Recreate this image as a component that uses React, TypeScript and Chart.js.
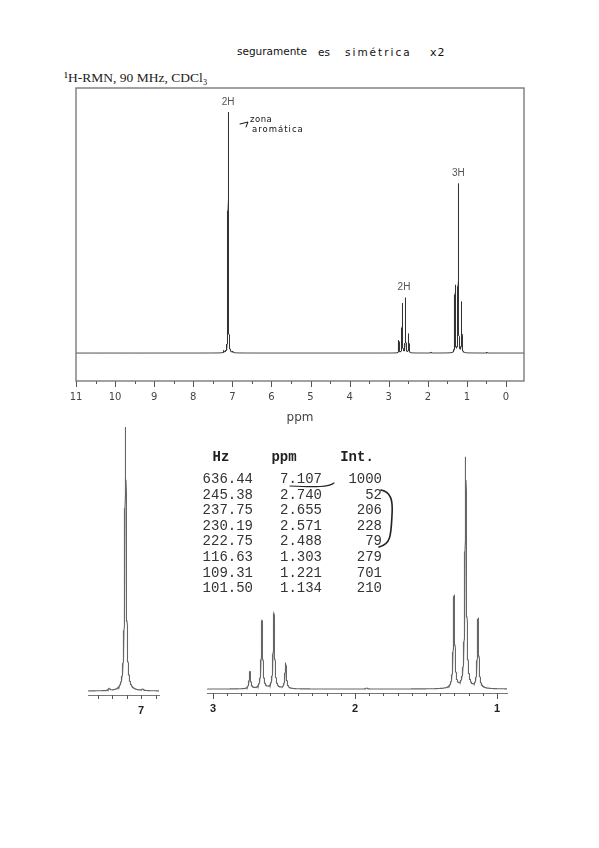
import React, { useEffect, useRef } from "react";
import { Chart, registerables } from "chart.js";
Chart.register(...registerables);

// ---- peak table ----
const peakHz = [636.44, 245.38, 237.75, 230.19, 222.75, 116.63, 109.31, 101.5];
const peakPpm = [7.107, 2.74, 2.655, 2.571, 2.488, 1.303, 1.221, 1.134];
const peakInt = [1000, 52, 206, 228, 79, 279, 701, 210];
// tiny impurity bumps seen in the traces
const minorPpm = [7.22, 6.99, 1.92, 0.49];
const minorInt = [8, 6, 3, 3];
const halfWidthPpm = 0.006;

// integration labels
const groupText = ["2H", "2H", "3H"];
const groupPpm = [7.107, 2.61, 1.221];

// axis ticks
const mainMajor = [11, 10, 9, 8, 7, 6, 5, 4, 3, 2, 1, 0];
const mainMinor = [10.5, 9.5, 8.5, 7.5, 6.5, 5.5, 4.5, 3.5, 2.5, 1.5, 0.5];
const leftMajor = [7];
const leftMinor = [7.3, 7.2, 7.1, 6.9];
const rightMajor = [3, 2, 1];
const rightMinor = [2.9, 2.8, 2.7, 2.6, 2.5, 2.4, 2.3, 2.2, 2.1, 1.9, 1.8, 1.7, 1.6, 1.5, 1.4, 1.3, 1.2, 1.1];

const allPpm = [...peakPpm, ...minorPpm];
const allInt = [...peakInt, ...minorInt];

function intensityAt(x: number) {
  let s = 0;
  const g2 = halfWidthPpm * halfWidthPpm;
  for (let i = 0; i < allPpm.length; i++) {
    const d = x - allPpm[i];
    s += (allInt[i] * g2) / (d * d + g2);
  }
  return s;
}

function buildSpectrum(lo: number, hi: number) {
  const xs = new Set<number>();
  const add = (v: number) => {
    if (v >= lo && v <= hi) xs.add(Math.round(v * 100000) / 100000);
  };
  for (let v = lo; v <= hi; v += 0.01) add(v);
  add(hi);
  for (const p of allPpm) {
    for (let d = -0.3; d <= 0.3; d += 0.002) add(p + d);
    for (let d = -0.05; d <= 0.05; d += 0.0005) add(p + d);
    add(p);
  }
  return Array.from(xs)
    .sort((a, b) => a - b)
    .map((x) => ({ x, y: intensityAt(x) }));
}

type SpecProps = {
  left: number; top: number; width: number; height: number;
  padL: number; padR: number; padT: number; axisH: number;
  xMin: number; xMax: number; yMin: number; yMax: number;
  major: number[]; minor: number[]; majorLen: number; minorLen: number;
  labelFont: any; labelColor: string; labelPad: number;
  lineColor: string; lineWidth: number;
  axisLine: boolean; box?: boolean; title?: string; titlePadBottom?: number;
  groups?: boolean;
};

function Spectrum(p: SpecProps) {
  const ref = useRef<HTMLCanvasElement>(null);
  useEffect(() => {
    const data = buildSpectrum(p.xMin, p.xMax);
    const deco = {
      id: "deco",
      afterDatasetsDraw(chart: any) {
        const { ctx, chartArea: a, scales } = chart;
        const x = scales.x, y = scales.y;
        ctx.save();
        ctx.strokeStyle = "#555";
        ctx.lineWidth = 1;
        const drawTicks = (vals: number[], len: number) =>
          vals.forEach((v) => {
            const px = Math.round(x.getPixelForValue(v)) + 0.5;
            ctx.beginPath();
            ctx.moveTo(px, a.bottom);
            ctx.lineTo(px, a.bottom + len);
            ctx.stroke();
          });
        drawTicks(p.major, p.majorLen);
        drawTicks(p.minor, p.minorLen);
        if (p.box) {
          ctx.strokeStyle = "#707070";
          ctx.lineWidth = 1.3;
          ctx.strokeRect(a.left, a.top, a.right - a.left, a.bottom - a.top);
        }
        if (p.groups) {
          ctx.fillStyle = "#555";
          ctx.font = "10px 'Liberation Sans', Arial, sans-serif";
          ctx.textAlign = "center";
          ctx.textBaseline = "middle";
          groupText.forEach((t, i) => {
            let m = 0;
            data.forEach((d) => {
              if (Math.abs(d.x - groupPpm[i]) < 0.2 && d.y > m) m = d.y;
            });
            ctx.fillText(t, x.getPixelForValue(groupPpm[i]), y.getPixelForValue(m) - 10);
          });
        }
        ctx.restore();
      },
    };
    const chart = new Chart(ref.current as HTMLCanvasElement, {
      type: "line",
      data: {
        datasets: [
          {
            data,
            borderColor: p.lineColor,
            borderWidth: p.lineWidth,
            pointRadius: 0,
            tension: 0,
            fill: false,
          },
        ],
      },
      options: {
        animation: false,
        responsive: false,
        maintainAspectRatio: false,
        events: [],
        layout: { padding: { left: p.padL, right: p.padR, top: p.padT, bottom: 0 } },
        plugins: { legend: { display: false }, tooltip: { enabled: false } },
        scales: {
          x: {
            type: "linear",
            reverse: true,
            min: p.xMin,
            max: p.xMax,
            grid: { display: false, drawTicks: false, tickLength: 0 },
            border: { display: p.axisLine, color: "#777", width: 1 },
            ticks: {
              padding: p.labelPad,
              font: p.labelFont,
              color: p.labelColor,
              maxRotation: 0,
              autoSkip: false,
              callback: (v: any) => String(v),
            },
            afterBuildTicks: (s: any) => {
              s.ticks = p.major.map((v) => ({ value: v }));
            },
            afterFit: (s: any) => {
              s.height = p.axisH;
            },
            title: p.title
              ? {
                  display: true,
                  text: p.title,
                  color: "#444",
                  font: { family: "'DejaVu Sans', sans-serif", size: 12 },
                  padding: { top: 0, bottom: p.titlePadBottom || 0 },
                }
              : { display: false },
          },
          y: { display: false, min: p.yMin, max: p.yMax },
        },
      } as any,
      plugins: [deco],
    });
    return () => chart.destroy();
  }, []);
  return (
    <canvas
      ref={ref}
      width={p.width}
      height={p.height}
      style={{ position: "absolute", left: p.left, top: p.top, width: p.width, height: p.height }}
    />
  );
}

const hand: React.CSSProperties = {
  position: "absolute",
  fontFamily: "'DejaVu Sans', sans-serif",
  color: "#111",
  whiteSpace: "nowrap",
  lineHeight: 1,
  transform: "translateY(-50%)",
};

function Txt(props: { x: number; y: number; size: number; children: any; style?: React.CSSProperties }) {
  return (
    <div style={{ ...hand, left: props.x, top: props.y, fontSize: props.size, ...(props.style || {}) }}>
      {props.children}
    </div>
  );
}

const mono: React.CSSProperties = {
  position: "absolute",
  fontFamily: "'Liberation Mono', 'Courier New', monospace",
  fontSize: 14,
  lineHeight: "14px",
  color: "#333",
  whiteSpace: "pre",
  textAlign: "right",
  transform: "translateY(-50%)",
};

export default function App() {
  const rowY0 = 479;
  const rowStep = 15.6;
  return (
    <div style={{ position: "absolute", left: 0, top: 0, width: 599, height: 848, background: "#fff", overflow: "hidden" }}>
      {/* handwritten note at top */}
      <Txt x={237} y={51} size={10.5}>seguramente</Txt>
      <Txt x={318} y={52} size={10.5}>es</Txt>
      <Txt x={345} y={52} size={10.5} style={{ letterSpacing: 2 }}>simétrica</Txt>
      <Txt x={430} y={52} size={11} style={{ letterSpacing: 1 }}>x2</Txt>

      <div
        style={{
          position: "absolute",
          left: 64,
          top: 78,
          transform: "translateY(-50%)",
          fontFamily: "'Liberation Serif', 'DejaVu Serif', serif",
          fontSize: 13.5,
          color: "#222",
          whiteSpace: "nowrap",
        }}
      >
        ¹H-RMN, 90 MHz, CDCl₃
      </div>

      <Spectrum
        left={0} top={0} width={599} height={440}
        padL={76} padR={75} padT={88} axisH={59}
        xMin={-0.46} xMax={11} yMin={-116} yMax={1100}
        major={mainMajor} minor={mainMinor} majorLen={6} minorLen={3}
        labelFont={{ family: "'DejaVu Sans', sans-serif", size: 10 }}
        labelColor="#444" labelPad={10}
        lineColor="#333" lineWidth={1}
        axisLine={false} box title="ppm" titlePadBottom={15} groups
      />

      <Txt x={250} y={119} size={8.5} style={{ letterSpacing: 0.5 }}>zona</Txt>
      <Txt x={252} y={129} size={8.5} style={{ letterSpacing: 1 }}>aromática</Txt>

      <Spectrum
        left={60} top={400} width={120} height={330}
        padL={28} padR={21} padT={19} axisH={35}
        xMin={6.876} xMax={7.366} yMin={-15} yMax={1030}
        major={leftMajor} minor={leftMinor} majorLen={4} minorLen={4}
        labelFont={{ family: "'Liberation Sans', Arial, sans-serif", size: 11, weight: "bold" }}
        labelColor="#222" labelPad={9}
        lineColor="#666" lineWidth={1.1}
        axisLine
      />

      <Spectrum
        left={190} top={430} width={340} height={300}
        padL={17} padR={23} padT={21} axisH={37}
        xMin={0.93} xMax={3.042} yMin={-12} yMax={721}
        major={rightMajor} minor={rightMinor} majorLen={6} minorLen={3}
        labelFont={{ family: "'Liberation Sans', Arial, sans-serif", size: 11, weight: "bold" }}
        labelColor="#222" labelPad={9}
        lineColor="#666" lineWidth={1.1}
        axisLine
      />

      {/* peak table */}
      <div style={{ ...mono, left: 206, width: 30, top: 457, fontWeight: "bold", color: "#222", textAlign: "center" }}>Hz</div>
      <div style={{ ...mono, left: 268, width: 32, top: 457, fontWeight: "bold", color: "#222", textAlign: "center" }}>ppm</div>
      <div style={{ ...mono, left: 338, width: 38, top: 457, fontWeight: "bold", color: "#222", textAlign: "center" }}>Int.</div>
      {peakHz.map((h, i) => (
        <React.Fragment key={i}>
          <div style={{ ...mono, left: 193, width: 60, top: rowY0 + i * rowStep }}>{h.toFixed(2)}</div>
          <div style={{ ...mono, left: 262, width: 60, top: rowY0 + i * rowStep }}>{peakPpm[i].toFixed(3)}</div>
          <div style={{ ...mono, left: 322, width: 60, top: rowY0 + i * rowStep }}>{String(peakInt[i])}</div>
        </React.Fragment>
      ))}

      {/* handwritten strokes */}
      <svg width={599} height={848} style={{ position: "absolute", left: 0, top: 0, pointerEvents: "none" }}>
        <path d="M240,124 L248,122 L246,127" fill="none" stroke="#111" strokeWidth={1} strokeLinecap="round" />
        <path d="M290,486 Q310,487 320,486.5 Q330,486 334,483" fill="none" stroke="#222" strokeWidth={1.2} strokeLinecap="round" />
        <path d="M381,490 C391,492 393,500 392,515 C391,535 391,544 379,547" fill="none" stroke="#222" strokeWidth={1.6} strokeLinecap="round" />
      </svg>
    </div>
  );
}
